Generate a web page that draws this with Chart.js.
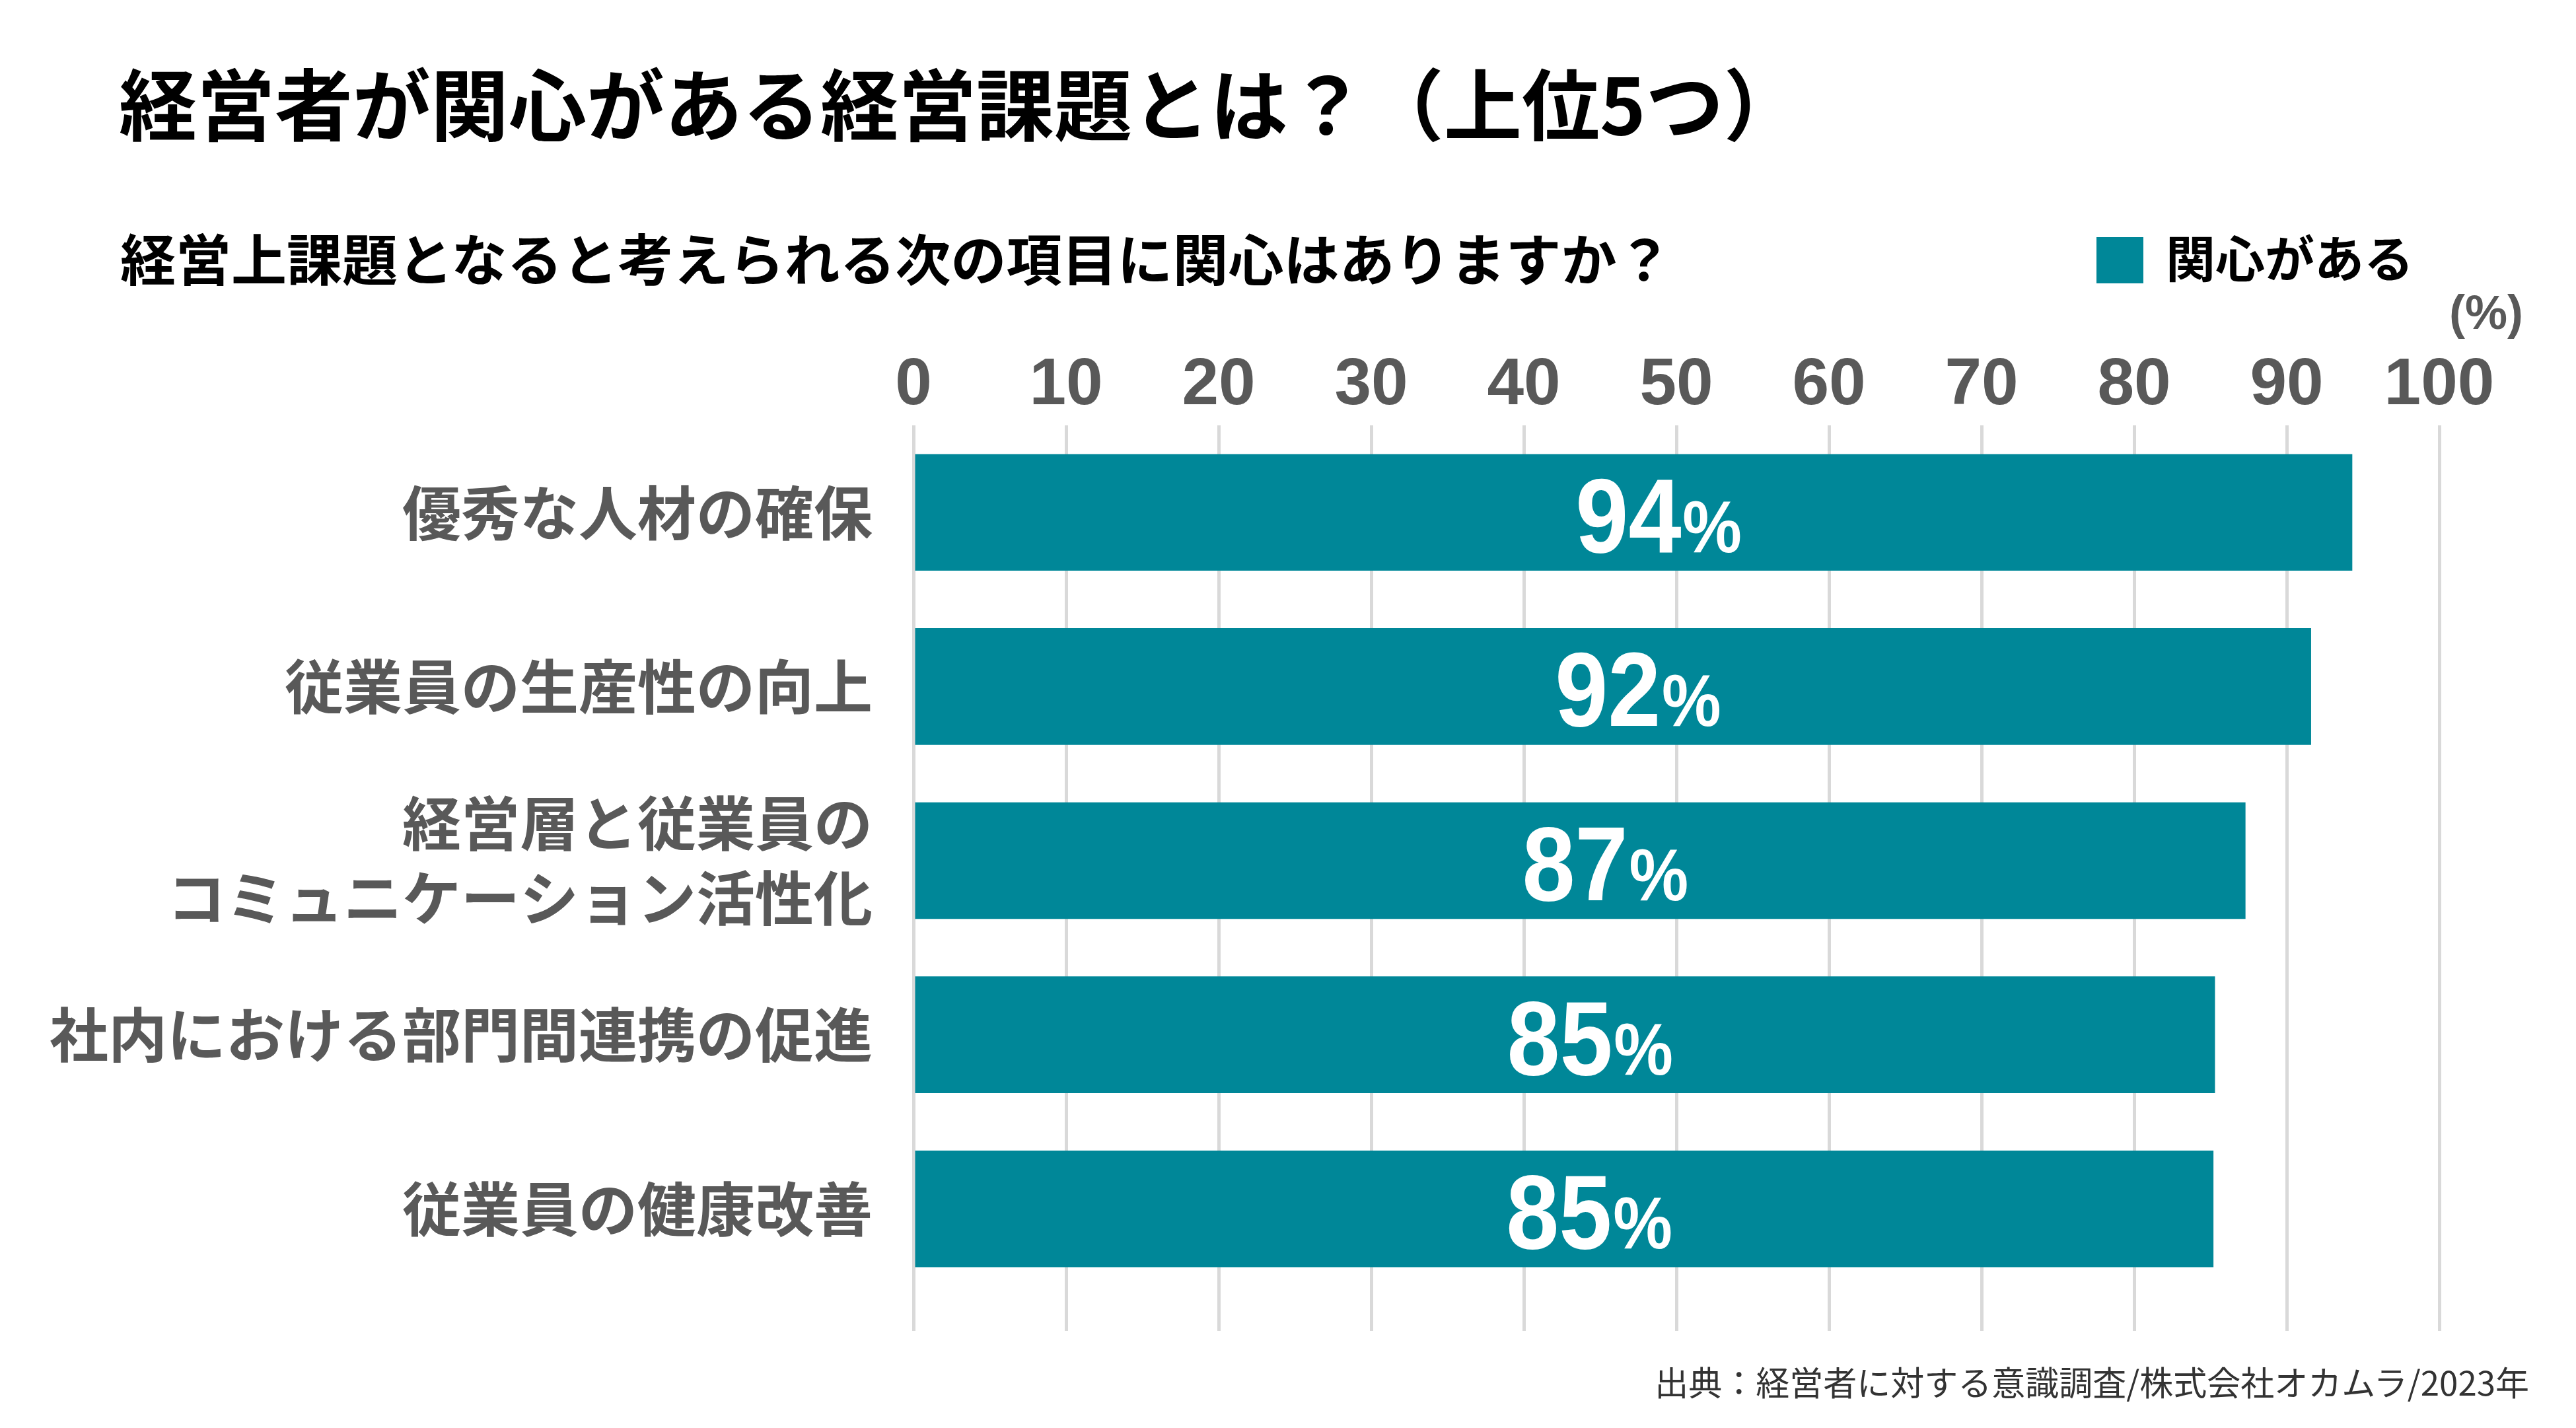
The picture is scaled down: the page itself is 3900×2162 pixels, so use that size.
<!DOCTYPE html>
<html>
<head>
    <meta charset="utf-8">
    <title>経営者が関心がある経営課題とは？（上位5つ）</title>
    <style>
        body { margin: 0; background: #ffffff; width: 3900px; height: 2162px; overflow: hidden; position: relative; font-family: "Noto Sans CJK JP", "Noto Sans", sans-serif; }
        #chart { position: absolute; left: 0; top: 0; }
        .title { position: absolute; left: 180px; top: 94px; font-size: 118px; line-height: 1; font-weight: 700; color: #000; white-space: nowrap; }
        .subtitle { position: absolute; left: 182px; top: 347px; font-size: 84px; line-height: 1; font-weight: 700; color: #000; white-space: nowrap; }
        .legend { position: absolute; left: 3174px; top: 350px; height: 84px; white-space: nowrap; }
        .legend .swatch { position: absolute; left: 0; top: 9px; width: 71px; height: 70px; background: #008798; }
        .legend .label { position: absolute; left: 105px; top: 0; font-size: 75px; line-height: 1; font-weight: 700; color: #000; }
        .unit { position: absolute; right: 80px; top: 437px; font-family: "Liberation Sans", Arial, sans-serif; font-size: 72px; line-height: 1; font-weight: 700; color: #595959; }
        .source { position: absolute; right: 71px; top: 2066px; font-size: 51px; line-height: 1; font-weight: 400; color: #333; white-space: nowrap; }
    </style>
</head>
<body>
    <canvas id="chart" width="3900" height="2162"></canvas>
    <div class="title">経営者が関心がある経営課題とは？（上位5つ）</div>
    <div class="subtitle">経営上課題となると考えられる次の項目に関心はありますか？</div>
    <div class="legend"><span class="swatch"></span><span class="label">関心がある</span></div>
    <div class="unit">(%)</div>
    <div class="source">出典：経営者に対する意識調査/株式会社オカムラ/2023年</div>

    <script src="https://cdn.jsdelivr.net/npm/chart.js"></script>
    <script>
        // data
        const categories = [
            '優秀な人材の確保',
            '従業員の生産性の向上',
            ['経営層と従業員の', 'コミュニケーション活性化'],
            '社内における部門間連携の促進',
            '従業員の健康改善'
        ];
        const interested = [94.3, 91.6, 87.3, 85.3, 85.2];
        const seriesName = '関心がある';
        const axisMin = 0;
        const axisMax = 100;
        const axisStep = 10;

        const barColor = '#008798';
        const gridColor = '#d9d9d9';
        const axisTextColor = '#595959';

        // white "94%" labels: number near the bar centre, smaller % after it.
        // the reference face is a bit condensed, so squeeze it horizontally
        const barLabels = {
            id: 'barLabels',
            afterDatasetsDraw(chart) {
                const ctx = chart.ctx;
                const meta = chart.getDatasetMeta(0);
                const squeeze = 0.9;
                ctx.save();
                ctx.fillStyle = '#ffffff';
                ctx.textBaseline = 'alphabetic';
                meta.data.forEach((bar, i) => {
                    const num = String(Math.round(interested[i]));
                    const cx = (bar.base + bar.x) / 2 - 8;
                    const y = bar.y + 60;
                    ctx.save();
                    ctx.translate(cx, y);
                    ctx.scale(squeeze, 1);
                    ctx.font = 'bold 160px "Liberation Sans", Arial, sans-serif';
                    const w = ctx.measureText(num).width;
                    ctx.textAlign = 'center';
                    ctx.fillText(num, 0, 0);
                    ctx.font = 'bold 112px "Liberation Sans", Arial, sans-serif';
                    ctx.textAlign = 'left';
                    ctx.fillText('%', w / 2 + 2, 0);
                    ctx.restore();
                });
                ctx.restore();
            }
        };

        new Chart(document.getElementById('chart'), {
            type: 'bar',
            data: {
                labels: categories,
                datasets: [{
                    label: seriesName,
                    data: interested,
                    backgroundColor: barColor,
                    borderWidth: 0,
                    barPercentage: 0.67,
                    categoryPercentage: 1.0,
                    xAxisID: 'x'
                }]
            },
            options: {
                indexAxis: 'y',
                responsive: false,
                devicePixelRatio: 1,
                animation: false,
                layout: { padding: { top: 524, right: 207, bottom: 147, left: 0 } },
                plugins: {
                    legend: { display: false },
                    tooltip: { enabled: false },
                    title: { display: false }
                },
                scales: {
                    x: {
                        type: 'linear',
                        position: 'top',
                        min: axisMin,
                        max: axisMax,
                        ticks: {
                            stepSize: axisStep,
                            padding: 0,
                            color: axisTextColor,
                            font: { family: '"Liberation Sans", Arial, sans-serif', size: 100, weight: 'bold' }
                        },
                        grid: { color: gridColor, lineWidth: 5, drawTicks: false },
                        border: { display: false }
                    },
                    x2: {
                        type: 'linear',
                        axis: 'x',
                        position: 'bottom',
                        min: axisMin,
                        max: axisMax,
                        ticks: { stepSize: axisStep, display: false },
                        grid: { color: gridColor, lineWidth: 5, drawOnChartArea: false, drawTicks: true, tickLength: 53 },
                        border: { display: false }
                    },
                    y: {
                        type: 'category',
                        position: 'left',
                        afterFit(scale) { scale.width = 1383; },
                        ticks: {
                            padding: 54,
                            color: axisTextColor,
                            font: { family: '"Noto Sans CJK JP", sans-serif', size: 89, weight: 'bold', lineHeight: 1.27 }
                        },
                        grid: { display: false },
                        border: { display: false }
                    }
                }
            },
            plugins: [barLabels]
        });
    </script>
</body>
</html>
